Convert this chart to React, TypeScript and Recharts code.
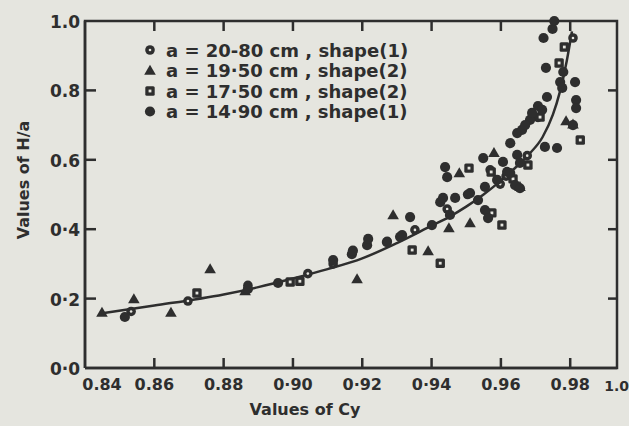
import React from "react";
import { ComposedChart, Scatter, Line, XAxis, YAxis, Customized } from "recharts";

// values (Cy, H/a)
const curvePts: [number, number][] = [
  [0.845, 0.158], [0.86, 0.18], [0.88, 0.212], [0.89, 0.233], [0.9, 0.258],
  [0.91, 0.285], [0.92, 0.316], [0.93, 0.36], [0.94, 0.41], [0.945, 0.435],
  [0.95, 0.465], [0.955, 0.5], [0.96, 0.54], [0.965, 0.585], [0.968, 0.615],
  [0.972, 0.665], [0.975, 0.73], [0.977, 0.795], [0.979, 0.885], [0.9805, 0.97],
];

const a2080: [number, number][] = [
  [0.8533, 0.163], [0.8697, 0.193], [0.887, 0.238], [0.9043, 0.272], [0.9116, 0.3],
  [0.9272, 0.365], [0.9352, 0.398], [0.9445, 0.458], [0.9504, 0.5], [0.9569, 0.571],
  [0.9598, 0.53], [0.9615, 0.553], [0.9676, 0.612], [0.9707, 0.722], [0.9808, 0.951],
];

const a1950: [number, number][] = [
  [0.8449, 0.16], [0.8541, 0.199], [0.8648, 0.16], [0.8761, 0.285], [0.8862, 0.222],
  [0.9185, 0.256], [0.9289, 0.441], [0.939, 0.337], [0.945, 0.403], [0.948, 0.562],
  [0.9511, 0.418], [0.958, 0.62], [0.9655, 0.522], [0.9788, 0.712], [0.9808, 0.702],
];

const a1750: [number, number][] = [
  [0.8723, 0.216], [0.8992, 0.248], [0.902, 0.25], [0.9344, 0.34], [0.9425, 0.302],
  [0.9508, 0.576], [0.9574, 0.447], [0.9603, 0.412], [0.9572, 0.565], [0.9635, 0.545],
  [0.9678, 0.585], [0.9713, 0.723], [0.9783, 0.925], [0.9768, 0.879], [0.9829, 0.657],
];

const a1490: [number, number][] = [
  [0.8515, 0.147], [0.887, 0.228], [0.8957, 0.245], [0.9116, 0.311], [0.917, 0.328],
  [0.9173, 0.338], [0.9214, 0.354], [0.9217, 0.372], [0.9271, 0.363], [0.9309, 0.378],
  [0.9315, 0.383], [0.9338, 0.435], [0.9401, 0.412], [0.9425, 0.478], [0.9433, 0.49],
  [0.9468, 0.49], [0.9439, 0.579], [0.9445, 0.55], [0.9453, 0.441], [0.9549, 0.605],
  [0.9511, 0.504], [0.9534, 0.484], [0.9554, 0.455], [0.9563, 0.432], [0.9554, 0.522],
  [0.9589, 0.542], [0.9606, 0.594], [0.9618, 0.565], [0.9627, 0.562], [0.9641, 0.527],
  [0.9655, 0.518], [0.9647, 0.614], [0.9655, 0.591], [0.9627, 0.648], [0.9647, 0.677],
  [0.9661, 0.686], [0.9684, 0.715], [0.969, 0.735], [0.9707, 0.755], [0.9733, 0.781],
  [0.9719, 0.744], [0.9727, 0.637], [0.9762, 0.634], [0.9771, 0.824], [0.9777, 0.807],
  [0.978, 0.853], [0.9814, 0.824], [0.9817, 0.772], [0.9817, 0.749], [0.973, 0.865],
  [0.9723, 0.951], [0.9749, 0.977], [0.9754, 1.0], [0.9808, 0.7], [0.967, 0.7],
];

const xTicks = [0.84, 0.86, 0.88, 0.9, 0.92, 0.94, 0.96, 0.98];
const xTickLabels = ["0.84", "0.86", "0.88", "0·90", "0·92", "0·94", "0.96", "0.98"];
const yTicks = [0, 0.2, 0.4, 0.6, 0.8, 1.0];
const yTickLabels = ["0·0", "0·2", "0·4", "0.6", "0.8", "1.0"];
const xMin = 0.84;
const xMax = 0.9935;

const seriesNames = [
  "a = 20-80 cm , shape(1)",
  "a = 19·50 cm , shape(2)",
  "a = 17·50 cm , shape(2)",
  "a = 14·90 cm , shape(1)",
];

const toXY = (pts: [number, number][]) => pts.map(([x, y]) => ({ x, y }));

// plot frame and inward tick marks, built from the axis values
const frame = toXY([[xMin, 0], [xMin, 1], [xMax, 1], [xMax, 0], [xMin, 0]]);
const innerX = xTicks.slice(1);
const innerY = yTicks.slice(1, -1);
const tickMarks = [
  ...innerX.map((x) => ({ x, y: 0, dir: "up" })),
  ...innerX.map((x) => ({ x, y: 1, dir: "down" })),
  ...innerY.map((y) => ({ x: xMin, y, dir: "right" })),
  ...innerY.map((y) => ({ x: xMax, y, dir: "left" })),
];

const INK = "#2e2e2e";
const BG = "#e5e5df";
const FONT = "'DejaVu Sans', sans-serif";

if (typeof document !== "undefined") {
  document.body.style.margin = "0";
  document.body.style.background = BG;
}

const Marker = ({ kind, cx, cy }: { kind: number; cx: number; cy: number }) => {
  if (kind === 0)
    return (
      <g>
        <circle cx={cx} cy={cy} r={4.8} fill={INK} />
        <circle cx={cx} cy={cy} r={1.3} fill={BG} />
      </g>
    );
  if (kind === 1)
    return <polygon points={`${cx},${cy - 5.8} ${cx + 5.8},${cy + 4.2} ${cx - 5.8},${cy + 4.2}`} fill={INK} />;
  if (kind === 2)
    return (
      <g>
        <rect x={cx - 4.7} y={cy - 4.7} width={9.4} height={9.4} rx={1.5} fill={INK} />
        <rect x={cx - 1.4} y={cy - 1.4} width={2.8} height={2.8} fill={BG} />
      </g>
    );
  return <circle cx={cx} cy={cy} r={5.1} fill={INK} />;
};

const shapeOf = (kind: number) => (p: any) => <Marker kind={kind} cx={p.cx} cy={p.cy} />;

const TickMark = (p: any) => {
  const { cx, cy } = p;
  const dir = p.payload?.dir ?? p.dir;
  const d =
    dir === "up" ? `M${cx},${cy} V${cy - 10}` :
    dir === "down" ? `M${cx},${cy} V${cy + 10}` :
    dir === "right" ? `M${cx},${cy} H${cx + 11}` : `M${cx},${cy} H${cx - 9}`;
  return <path d={d} stroke={INK} strokeWidth={2.5} fill="none" />;
};

const BottomTick = (p: any) => {
  const i = xTicks.indexOf(p.payload.value);
  return (
    <g>
      <text
        x={p.x + (i === 0 ? 17 : 0)}
        y={p.y + 14}
        textAnchor="middle"
        fontFamily={FONT}
        fontWeight="bold"
        fontSize={16}
        fill={INK}
      >
        {xTickLabels[i]}
      </text>
    </g>
  );
};

const LeftTick = (p: any) => {
  const i = yTicks.indexOf(p.payload.value);
  return (
    <g>
      <text x={p.x + 3} y={p.y + 7} textAnchor="end" fontFamily={FONT} fontWeight="bold" fontSize={17} fill={INK}>
        {yTickLabels[i]}
      </text>
    </g>
  );
};

const Texts = () => (
  <g>
    {seriesNames.map((name, k) => (
      <g key={name}>
        <Marker kind={k} cx={150} cy={50 + k * 20.5} />
        <text x={166} y={50 + k * 20.5 + 6.5} fontFamily={FONT} fontWeight="bold" fontSize={18} fill={INK}>
          {name}
        </text>
      </g>
    ))}
    <text x={305} y={415} textAnchor="middle" fontFamily={FONT} fontWeight="bold" fontSize={16} fill={INK}>
      Values of Cy
    </text>
    <text
      x={23}
      y={180}
      transform="rotate(-90, 23, 180)"
      textAnchor="middle"
      dominantBaseline="central"
      fontFamily={FONT}
      fontWeight="bold"
      fontSize={16}
      fill={INK}
    >
      Values of H/a
    </text>
    <text x={629} y={391} textAnchor="end" fontFamily={FONT} fontWeight="bold" fontSize={14} fill={INK}>
      1.0
    </text>
  </g>
);

export default function App() {
  return (
    <ComposedChart
      width={629}
      height={426}
      margin={{ top: 21, right: 12, bottom: 8, left: 25 }}
      style={{ background: BG }}
    >
      <XAxis
        dataKey="x"
        type="number"
        domain={[xMin, xMax]}
        ticks={xTicks}
        height={50}
        tick={BottomTick}
        tickLine={false}
        axisLine={{ stroke: INK, strokeWidth: 2.5 }}
      />
      <YAxis
        dataKey="y"
        type="number"
        domain={[0, 1]}
        ticks={yTicks}
        width={60}
        tick={LeftTick}
        tickLine={false}
        axisLine={{ stroke: INK, strokeWidth: 2.5 }}
      />
      <Line data={frame} dataKey="y" type="linear" dot={false} stroke={INK} strokeWidth={2.5} isAnimationActive={false} />
      <Scatter data={tickMarks} shape={TickMark} isAnimationActive={false} />
      <Line data={toXY(curvePts)} dataKey="y" type="monotone" dot={false} stroke={INK} strokeWidth={2.5} isAnimationActive={false} />
      <Scatter data={toXY(a2080)} fill={INK} shape={shapeOf(0)} isAnimationActive={false} />
      <Scatter data={toXY(a1950)} fill={INK} shape={shapeOf(1)} isAnimationActive={false} />
      <Scatter data={toXY(a1750)} fill={INK} shape={shapeOf(2)} isAnimationActive={false} />
      <Scatter data={toXY(a1490)} fill={INK} shape={shapeOf(3)} isAnimationActive={false} />
      <Customized component={Texts} />
    </ComposedChart>
  );
}
